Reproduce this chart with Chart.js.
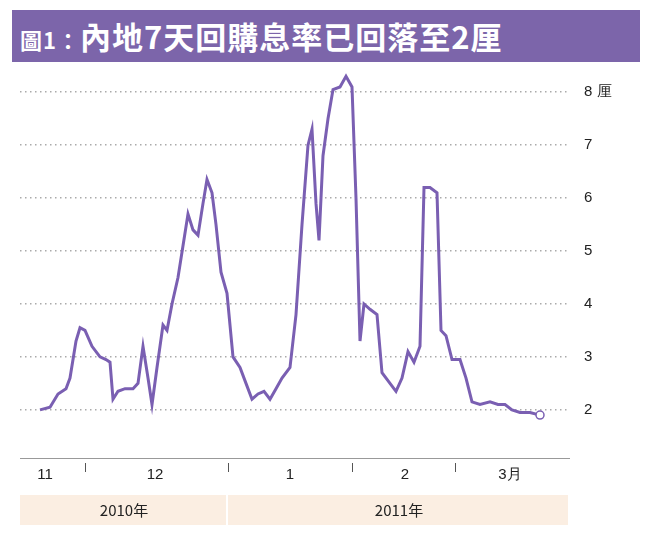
<!DOCTYPE html>
<html><head><meta charset="utf-8">
<script src="https://cdn.jsdelivr.net/npm/chart.js@4"></script>
<style>
body{margin:0;background:#fff;width:652px;height:540px;overflow:hidden;font-family:"Noto Sans CJK TC",sans-serif}
#t{position:absolute;left:12px;top:10px;width:628px;height:52px;background:#7c65aa;color:#fff;font-weight:bold;font-size:31px;line-height:52px;padding-left:8px;box-sizing:border-box;letter-spacing:1px}
#t small{font-size:22px}
#w{position:absolute;left:0;top:0;width:652px;height:540px}
</style></head><body>
<div id="w"><canvas id="c" width="652" height="540"></canvas></div>
<div id="t"><small>圖1：</small>內地7天回購息率已回落至2厘</div>
<script>
const days=[0,2,3.6,5.2,6,7.2,8,9,10.4,12,13.2,14,14.6,15.6,17,18.6,19.6,20.6,21.6,22.4,23.4,24.6,25.4,26.4,27.6,28.6,29.6,30.6,31.6,32.6,33.4,34.4,35.2,36.2,37.4,38.6,40,41.2,42.4,43.6,44.8,46,47.2,48.4,50,51.2,52.4,53.6,54.4,55.2,55.8,56.6,57.6,58.6,60,61.2,62.4,63.2,64,64.8,66,67.4,68.4,70,71.2,72.4,73.6,74.8,76,76.8,78,79.4,80.2,81.2,82.4,84,85.2,86.4,88,90,91.6,93,94.4,96,98,100];
const rates=[2.0,2.05,2.3,2.4,2.6,3.3,3.55,3.5,3.2,3.0,2.95,2.9,2.2,2.35,2.4,2.4,2.5,3.2,2.6,2.1,2.8,3.6,3.5,4.0,4.5,5.1,5.7,5.4,5.3,5.9,6.35,6.1,5.5,4.6,4.2,3.0,2.8,2.5,2.2,2.3,2.35,2.2,2.4,2.6,2.8,3.8,5.5,7.0,7.3,5.9,5.2,6.8,7.5,8.05,8.1,8.3,8.1,6.0,3.3,4.0,3.9,3.8,2.7,2.5,2.35,2.6,3.1,2.9,3.2,6.2,6.2,6.1,3.5,3.4,2.95,2.95,2.6,2.15,2.1,2.15,2.1,2.1,2.0,1.95,1.95,1.9];
const yTicks=[2,3,4,5,6,7,8];
const monthLabels=["11","12","1","2","3月"];
const monthPos=[1,23,50,73,94];
const monthBounds=[9,37.6,62.4,83];
const years=["2010年","2011年"];
const yearSpans=[[-4,37.6],[37.6,106]];
const deco={id:'deco',afterDraw(ch){
 const c=ch.ctx,x=ch.scales.x,a=ch.chartArea;
 c.save();
 c.strokeStyle='#999';c.lineWidth=1;
 c.beginPath();c.moveTo(a.left,a.bottom+0.5);c.lineTo(a.right,a.bottom+0.5);c.stroke();
 c.fillStyle='#222';c.font='15px "Liberation Sans"';c.textAlign='center';c.textBaseline='middle';
 monthLabels.forEach((m,i)=>c.fillText(m,x.getPixelForValue(monthPos[i]),a.bottom+17));
 c.strokeStyle='#555';
 monthBounds.forEach(b=>{const p=Math.round(x.getPixelForValue(b))+0.5;c.beginPath();c.moveTo(p,a.bottom+5);c.lineTo(p,a.bottom+14);c.stroke();});
 yearSpans.forEach((s,i)=>{const l=x.getPixelForValue(s[0]),r=x.getPixelForValue(s[1]);
  c.fillStyle='#fbeee2';c.fillRect(l,a.bottom+37,r-l-2,30);
  c.fillStyle='#222';c.font='15px "Noto Sans CJK TC"';c.fillText(years[i],(l+r)/2,a.bottom+52);});
 c.restore();}};
new Chart(document.getElementById('c'),{type:'line',
 data:{datasets:[{data:days.map((d,i)=>({x:d,y:rates[i]})),borderColor:'#7a5fb2',borderWidth:3,tension:0,
  pointRadius:days.map((d,i)=>i===days.length-1?4:0),pointBackgroundColor:'#fff',pointBorderColor:'#7a5fb2',pointBorderWidth:1.5}]},
 options:{responsive:false,animation:false,layout:{padding:{left:20,top:70,bottom:82,right:0}},
  plugins:{legend:{display:false},tooltip:{enabled:false}},
  scales:{x:{type:'linear',min:-4,max:106,display:false},
   y:{position:'right',min:1.09,max:8.42,afterFit(s){s.width=82;},
    afterBuildTicks(s){s.ticks=yTicks.map(v=>({value:v}));},
    border:{display:false,dash:[1.5,3.5]},
    grid:{color:'#aaa',drawTicks:false,lineWidth:1.5},
    ticks:{padding:14,color:'#222',font:{size:15,family:'Liberation Sans'},callback:v=>v===8?'8 厘':String(v)}}}},
 plugins:[deco]});
</script></body></html>
